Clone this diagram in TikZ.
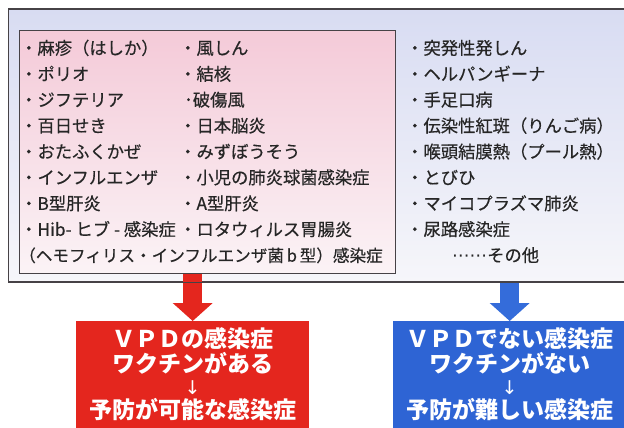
\documentclass[tikz,border=0pt]{standalone}
\usepackage{fontspec}
\setmainfont{Noto Sans CJK JP}
\newfontfamily\itemfont[FakeBold=0.45]{Noto Sans CJK JP}
\newfontfamily\arrfont{DejaVu Sans}
\usetikzlibrary{arrows.meta,calc}
\definecolor{vpdred}{RGB}{228,38,30}
\definecolor{vpdblue}{RGB}{46,100,212}
\definecolor{arrblue}{RGB}{52,108,218}
\definecolor{outertop}{RGB}{216,220,242}
\definecolor{outerbot}{RGB}{246,246,250}
\definecolor{pinktop}{RGB}{244,202,216}
\definecolor{pinkbot}{RGB}{251,243,246}
\definecolor{edgegray}{RGB}{70,66,70}
\tikzset{
  outerbox/.style={anchor=north west, inner sep=0pt, draw=edgegray, line width=1.1pt,
    top color=outertop, bottom color=outerbot},
  innerbox/.style={anchor=north west, inner sep=0pt, draw=edgegray, line width=0.9pt,
    top color=pinktop, bottom color=pinkbot},
  colbox/.style={anchor=north west, inner sep=0pt, draw=none, minimum width=233pt, minimum height=120pt},
  item/.style={anchor=base west, inner sep=0pt, text=black!85, font=\itemfont\fontsize{17.3}{17.3}\selectfont},
  boxtext/.style={anchor=base, inner sep=0pt, text=white, font=\bfseries\fontsize{23}{23}\selectfont},
  boxarrow/.style={anchor=center, inner sep=0pt, text=white, font=\arrfont\fontsize{19}{19}\selectfont},
  fatarrow/.style={line width=19pt, -{Triangle[width=39pt,length=18pt]}},
}
\begin{document}
\begin{tikzpicture}[x=1pt,y=-1pt]
\useasboundingbox (0,0) rectangle (624,428);
% boxes
\node[outerbox, minimum width=622pt, minimum height=272.5pt] (outer) at (8,8.5) {};
\node[innerbox, minimum width=376pt, minimum height=243pt] (inner) at (19,30) {};
\node[colbox, fill=vpdred] (redbox) at (76,321) {};
\node[colbox, fill=vpdblue] (bluebox) at (393,321) {};
% arrows
\draw[fatarrow, draw=vpdred, fill=vpdred] (inner.south -| redbox.north) -- (redbox.north);
\draw[fatarrow, draw=arrblue, fill=arrblue] (outer.south -| bluebox.north) -- (bluebox.north);
\draw[edgegray, line width=1.1pt] (outer.south west) -- (outer.south east);
\draw[edgegray, line width=0.9pt] (inner.south west) -- (inner.south east);
% left column
\node[item] (l1) at (20,54.5) {・麻疹（はしか）};
\node[item] (l2) at (20,80.4) {・ポリオ};
\node[item] (l3) at (20,106.3) {・ジフテリア};
\node[item] (l4) at (20,132.2) {・百日せき};
\node[item] (l5) at (20,158.1) {・おたふくかぜ};
\node[item] (l6) at (20,184.0) {・インフルエンザ};
\node[item] (l7) at (20,209.9) {・B型肝炎};
\node[item] (l8) at (20,235.8) {・Hib- ヒブ - 感染症};
\node[item, font=\itemfont\fontsize{16.6}{16.6}\selectfont] (l9) at (19,261.7) {（ヘモフィリス・インフルエンザ菌\,b\,型）感染症};
% middle column
\node[item] (m1) at (179,54.5) {・風しん};
\node[item] (m2) at (179,80.4) {・結核};
\node[item] (m3) at (184,106.3) {･破傷風};
\node[item] (m4) at (179,132.2) {・日本脳炎};
\node[item] (m5) at (179,158.1) {・みずぼうそう};
\node[item] (m6) at (179,184.0) {・小児の肺炎球菌感染症};
\node[item] (m7) at (179,209.9) {・A型肝炎};
\node[item] (m8) at (179,235.8) {・ロタウィルス胃腸炎};
% right column
\node[item] (r1) at (406,54.5) {・突発性発しん};
\node[item] (r2) at (406,80.4) {・ヘルパンギーナ};
\node[item] (r3) at (406,106.3) {・手足口病};
\node[item] (r4) at (406,132.2) {・伝染性紅斑（りんご病）};
\node[item] (r5) at (406,158.1) {・喉頭結膜熱（プール熱）};
\node[item] (r6) at (406,184.0) {・とびひ};
\node[item] (r7) at (406,209.9) {・マイコプラズマ肺炎};
\node[item] (r8) at (406,235.8) {・尿路感染症};
\node[item] (r9) at (452,261.7) {{\arrfont\fontsize{17.5}{17.5}\selectfont ⋯⋯}その他};
% red box text
\node[boxtext] (rt1) at ($(redbox.north)+(0,26)$) {ＶＰＤの感染症};
\node[boxtext] (rt2) at ($(redbox.north)+(0,51)$) {ワクチンがある};
\node[boxarrow] (rt3) at ($(redbox.north)+(0,67)$) {↓};
\node[boxtext] (rt4) at ($(redbox.north)+(0,97)$) {予防が可能な感染症};
% blue box text
\node[boxtext] (bt1) at ($(bluebox.north)+(0,26)$) {ＶＰＤでない感染症};
\node[boxtext] (bt2) at ($(bluebox.north)+(0,51)$) {ワクチンがない};
\node[boxarrow] (bt3) at ($(bluebox.north)+(0,67)$) {↓};
\node[boxtext] (bt4) at ($(bluebox.north)+(0,97)$) {予防が難しい感染症};
\end{tikzpicture}
\end{document}
